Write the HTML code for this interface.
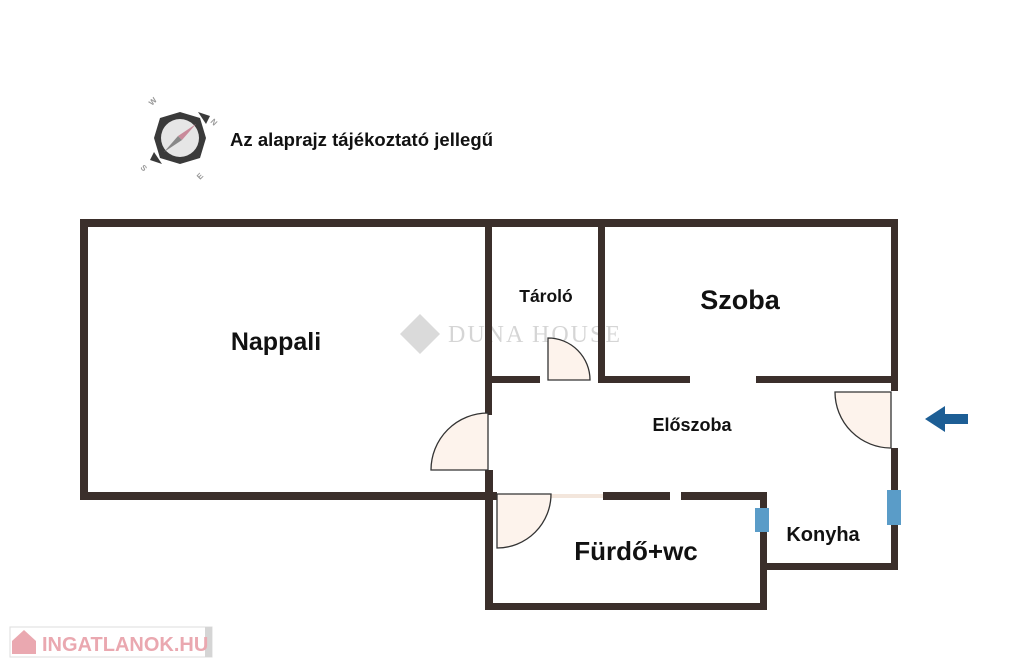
<!DOCTYPE html>
<html><head><meta charset="utf-8"><style>
body{margin:0;background:#fff;}
svg{display:block}
text{font-family:"Liberation Sans",Arial,sans-serif;font-weight:bold;fill:#111}
</style></head><body>
<svg width="1024" height="667" viewBox="0 0 1024 667" xmlns="http://www.w3.org/2000/svg">
<rect width="1024" height="667" fill="#fff"/>
<!-- compass -->
<g>
<polygon points="180,112 200,118 206,138 200,158 180,164 160,158 154,138 160,118" fill="#3a3a3a"/>
<polygon points="198,112 210,116 206,124" fill="#3a3a3a"/>
<polygon points="150,160 154,152 162,164" fill="#3a3a3a"/>
<circle cx="180" cy="138" r="22" fill="#3a3a3a"/>
<circle cx="180" cy="138" r="19" fill="#e6e6e6"/>
<polygon points="196,124 178,136 182,140" fill="#c98a9a"/>
<polygon points="164,152 182,140 178,136" fill="#888"/>
<text x="152" y="106" font-size="8" fill="#999" style="fill:#999" transform="rotate(-45 152 106)">W</text>
<text x="210" y="122" font-size="8" style="fill:#999" transform="rotate(45 210 122)">N</text>
<text x="140" y="168" font-size="8" style="fill:#999" transform="rotate(45 140 168)">S</text>
<text x="200" y="180" font-size="8" style="fill:#999" transform="rotate(-45 200 180)">E</text>
</g>
<text x="230" y="146" font-size="18.5" textLength="263">Az alaprajz tájékoztató jellegű</text>
<!-- watermark -->
<g opacity="0.3">
<polygon points="420,314 440,334 420,354 400,334" fill="#888"/>
<text x="448" y="342" font-size="24" textLength="172" style="font-family:'Liberation Serif',serif;font-weight:normal;fill:#777">DUNA HOUSE</text>
</g>
<!-- windows -->
<rect x="80" y="293" width="8" height="139" fill="#8ecfe0"/>
<rect x="891" y="245" width="7" height="90" fill="#8ecfe0"/>
<rect x="887" y="490" width="14" height="35" fill="#5a9cc8"/>
<rect x="755" y="508" width="14" height="24" fill="#5a9cc8"/>
<!-- walls -->
<g fill="#3b2f2b">
<rect x="80" y="219" width="818" height="8"/>
<rect x="80" y="219" width="8" height="281"/>
<rect x="80" y="492" width="417" height="8"/>
<rect x="891" y="219" width="7" height="172"/>
<rect x="891" y="448" width="7" height="42"/>
<rect x="891" y="525" width="7" height="45"/>
<rect x="485" y="226" width="7" height="189"/>
<rect x="485" y="470" width="8" height="140"/>
<rect x="598" y="226" width="7" height="157"/>
<rect x="598" y="376" width="92" height="7"/>
<rect x="756" y="376" width="142" height="7"/>
<rect x="492" y="376" width="48" height="7"/>
<rect x="603" y="492" width="67" height="8"/>
<rect x="681" y="492" width="86" height="8"/>
<rect x="485" y="603" width="282" height="7"/>
<rect x="760" y="492" width="7" height="16"/>
<rect x="760" y="532" width="7" height="78"/>
<rect x="760" y="563" width="138" height="7"/>
</g>
<rect x="551" y="494" width="52" height="4" fill="#f3e6dc"/>
<!-- doors -->
<g fill="#fdf3ec" stroke="#333" stroke-width="1.3">
<path d="M488,470 L431,470 A57,57 0 0 1 488,413 Z"/>
<path d="M548,380 L548,338 A42,42 0 0 1 590,380 Z"/>
<path d="M497,494 L551,494 A54,54 0 0 1 497,548 Z"/>
<path d="M891,392 L835,392 A56,56 0 0 0 891,448 Z"/>
</g>
<!-- arrow -->
<polygon points="925,419 945,406 945,414 968,414 968,424 945,424 945,432" fill="#1d5e95"/>
<!-- labels -->
<text x="276" y="350" font-size="25" text-anchor="middle">Nappali</text>
<text x="546" y="302" font-size="17.5" text-anchor="middle">Tároló</text>
<text x="740" y="309" font-size="27" text-anchor="middle">Szoba</text>
<text x="692" y="431" font-size="18" text-anchor="middle">Előszoba</text>
<text x="636" y="560" font-size="26" text-anchor="middle">Fürdő+wc</text>
<text x="823" y="541" font-size="20" text-anchor="middle">Konyha</text>
<!-- ingatlanok -->
<rect x="10" y="627" width="202" height="30" fill="#fff" stroke="#ddd"/>
<rect x="205" y="627" width="7" height="30" fill="#d5d5d5"/>
<polygon points="12,641 24,630 36,641 36,654 12,654" fill="#eaa8b0"/>
<text x="42" y="651" font-size="20" style="fill:#eaa8b0">INGATLANOK.HU</text>
</svg>
</body></html>
